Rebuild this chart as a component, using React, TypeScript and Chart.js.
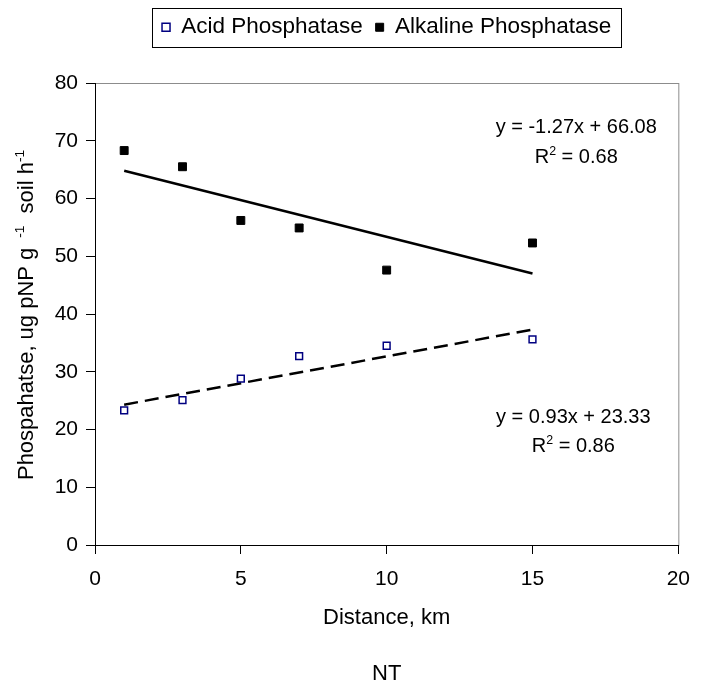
import { useEffect, useRef } from "react";
import { Chart, registerables } from "chart.js";

Chart.register(...registerables);

const FONT = "'Liberation Sans', Arial, Helvetica, sans-serif";

// distance from source, km
const distances = [1, 3, 5, 7, 10, 15];
const acidValues = [23.3, 25.1, 28.8, 32.7, 34.5, 35.6];
const alkalineValues = [68.3, 65.5, 56.2, 54.9, 47.6, 52.3];

// linear trend lines, read at both ends
const trendX = [1, 15];
const acidTrend = [24.3, 37.3];
const alkalineTrend = [64.8, 47.0];

const alkalineEquation = "y = -1.27x + 66.08";
const alkalineR2 = "0.68";
const acidEquation = "y = 0.93x + 23.33";
const acidR2 = "0.86";

type Seg = { text: string; sup?: boolean };

function drawRich(ctx: CanvasRenderingContext2D, segs: Seg[], x: number, y: number, size: number) {
  const supSize = size * 0.62;
  const widths = segs.map((s) => {
    ctx.font = `${s.sup ? supSize : size}px ${FONT}`;
    return ctx.measureText(s.text).width;
  });
  const total = widths.reduce((a, b) => a + b, 0);
  let cx = x - total / 2;
  ctx.textAlign = "left";
  ctx.textBaseline = "alphabetic";
  ctx.fillStyle = "#000";
  segs.forEach((s, i) => {
    ctx.font = `${s.sup ? supSize : size}px ${FONT}`;
    ctx.fillText(s.text, cx, s.sup ? y - size * 0.4 : y);
    cx += widths[i];
  });
}

// pushes the plot area down below the legend
const legendSpacer = {
  id: "legendSpacer",
  beforeInit(chart: any) {
    const legend = chart.legend;
    if (!legend) return;
    const fit = legend.fit;
    legend.fit = function () {
      fit.call(this);
      this.height += 34.5;
    };
  },
};

const decorations = {
  id: "decorations",
  beforeDraw(chart: any) {
    const { ctx, chartArea } = chart;
    ctx.save();
    ctx.strokeStyle = "#8c8c8c";
    ctx.lineWidth = 1;
    ctx.strokeRect(chartArea.left + 0.5, chartArea.top + 0.5, chartArea.width, chartArea.height);
    ctx.restore();
  },
  afterDraw(chart: any) {
    const { ctx, chartArea, scales } = chart;
    ctx.save();

    // legend frame
    const boxes = chart.legend?.legendHitBoxes || [];
    if (boxes.length) {
      const first = boxes[0];
      const last = boxes[boxes.length - 1];
      ctx.strokeStyle = "#000";
      ctx.lineWidth = 1;
      const l = Math.round(first.left - 10) + 0.5;
      const r = Math.round(last.left + last.width + 10) + 0.5;
      const t = Math.round(first.top - 8) + 0.5;
      const b = Math.round(first.top + first.height + 8) + 0.5;
      ctx.strokeRect(l, t, r - l, b - t);
    }

    // y axis title with superscripts
    ctx.translate(33, (chartArea.top + chartArea.bottom) / 2 + 1);
    ctx.rotate(-Math.PI / 2);
    drawRich(
      ctx,
      [
        { text: "Phospahatse, ug pNP g " },
        { text: " -1", sup: true },
        { text: "  soil h" },
        { text: "-1", sup: true },
      ],
      0,
      0,
      22
    );
    ctx.setTransform(1, 0, 0, 1, 0, 0);

    // trend equations
    const x = scales.x;
    const y = scales.y;
    drawRich(ctx, [{ text: alkalineEquation }], x.getPixelForValue(16.5), y.getPixelForValue(71.3), 20);
    drawRich(
      ctx,
      [{ text: "R" }, { text: "2", sup: true }, { text: " = " + alkalineR2 }],
      x.getPixelForValue(16.5),
      y.getPixelForValue(66.1),
      20
    );
    drawRich(ctx, [{ text: acidEquation }], x.getPixelForValue(16.4), y.getPixelForValue(21.1), 20);
    drawRich(
      ctx,
      [{ text: "R" }, { text: "2", sup: true }, { text: " = " + acidR2 }],
      x.getPixelForValue(16.4),
      y.getPixelForValue(16.1),
      20
    );
    ctx.restore();
  },
};

export default function App() {
  const canvasRef = useRef<HTMLCanvasElement>(null);

  useEffect(() => {
    if (!canvasRef.current) return;
    Chart.defaults.font.family = FONT;
    Chart.defaults.color = "#000";

    const chart = new Chart(canvasRef.current, {
      type: "scatter",
      data: {
        datasets: [
          {
            label: "Acid Phosphatase",
            data: distances.map((d, i) => ({ x: d, y: acidValues[i] })),
            pointStyle: "rect",
            pointRadius: 4.8,
            pointBackgroundColor: "#fff",
            pointBorderColor: "#000080",
            pointBorderWidth: 1.5,
            backgroundColor: "#fff",
            borderColor: "#000080",
            order: 1,
          },
          {
            label: "Alkaline Phosphatase",
            data: distances.map((d, i) => ({ x: d, y: alkalineValues[i] })),
            pointStyle: "rect",
            pointRadius: 5.6,
            pointBackgroundColor: "#000",
            pointBorderColor: "#000",
            pointBorderWidth: 1,
            backgroundColor: "#000",
            borderColor: "#000",
            order: 1,
          },
          {
            label: "acid trend",
            data: trendX.map((d, i) => ({ x: d, y: acidTrend[i] })),
            showLine: true,
            pointRadius: 0,
            borderColor: "#000",
            borderWidth: 2.5,
            borderDash: [14, 7],
            order: 2,
          },
          {
            label: "alkaline trend",
            data: trendX.map((d, i) => ({ x: d, y: alkalineTrend[i] })),
            showLine: true,
            pointRadius: 0,
            borderColor: "#000",
            borderWidth: 2.5,
            order: 2,
          },
        ],
      },
      options: {
        responsive: false,
        animation: false,
        events: [],
        layout: { padding: { top: 3, right: 23, left: 0, bottom: 0 } },
        scales: {
          x: {
            type: "linear",
            min: 0,
            max: 20,
            ticks: { stepSize: 5, font: { size: 21 }, padding: 13, color: "#000" },
            grid: { drawOnChartArea: false, tickLength: 9, color: "#000" },
            border: { color: "#000" },
            title: { display: true, text: "Distance, km", font: { size: 22 }, padding: 0, color: "#000" },
            afterFit: (s: any) => {
              s.height = 86;
            },
          },
          y: {
            min: 0,
            max: 80,
            ticks: { stepSize: 10, font: { size: 21 }, padding: 8, color: "#000" },
            grid: { drawOnChartArea: false, tickLength: 9, color: "#000" },
            border: { color: "#000" },
            afterFit: (s: any) => {
              s.width = 95;
            },
          },
        },
        plugins: {
          legend: {
            position: "top",
            fullSize: false,
            labels: {
              usePointStyle: true,
              boxWidth: 8,
              boxHeight: 8,
              padding: 13,
              font: { size: 22.5 },
              color: "#000",
              filter: (item: any) => item.datasetIndex < 2,
            },
          },
          title: {
            display: true,
            position: "bottom",
            fullSize: false,
            text: "NT",
            font: { size: 22, lineHeight: 1, weight: "normal" },
            padding: { top: 32, bottom: 0 },
            color: "#000",
          },
          tooltip: { enabled: false },
        },
      },
      plugins: [legendSpacer, decorations],
    });

    return () => chart.destroy();
  }, []);

  return (
    <div style={{ position: "absolute", left: 0, top: 0, width: 703, height: 685 }}>
      <canvas ref={canvasRef} width={703} height={685} style={{ display: "block" }} />
    </div>
  );
}
